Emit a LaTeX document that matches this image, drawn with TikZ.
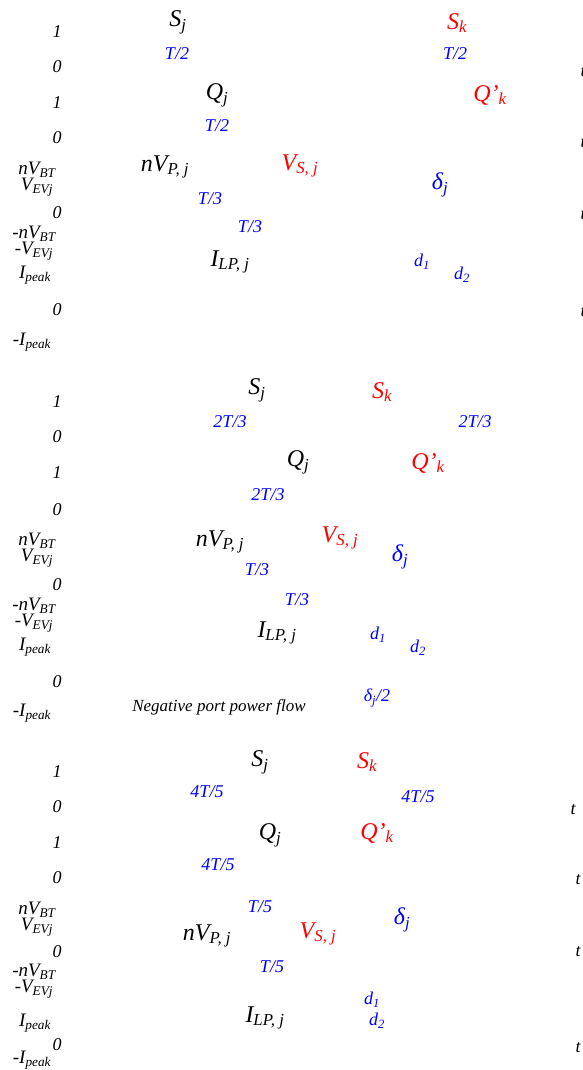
\documentclass[tikz,border=0pt]{standalone}
\usepackage{fontspec}
\setmainfont{Liberation Serif}
\begin{document}
\begin{tikzpicture}[x=1pt,y=-1pt,
  lab/.style={inner sep=0pt,font=\fontsize{18}{20}\selectfont\itshape},
  axl/.style={inner sep=0pt,font=\fontsize{19}{20}\selectfont\itshape},
  stk/.style={inner sep=0pt,align=center,font=\fontsize{19}{14}\selectfont\itshape},
  big/.style={inner sep=0pt,font=\fontsize{24}{26}\selectfont\itshape},
  blu/.style={text=blue},
  rd/.style={text=red},
  neg/.style={inner sep=0pt,font=\fontsize{17}{18}\selectfont\itshape}]
\useasboundingbox (0,0) rectangle (582,1070);
% ---------- Section 1 ----------
\node[lab] (a1) at (57,32) {1};
\node[lab] (a2) at (57,67) {0};
\node[lab] (a3) at (57,103) {1};
\node[lab] (a4) at (57,138) {0};
\node[stk] (a5) at (37,179) {nV\textsubscript{BT}\\V\textsubscript{EVj}};
\node[lab] (a7) at (57,213) {0};
\node[stk] (a8) at (34,243) {-nV\textsubscript{BT}\\-V\textsubscript{EVj}};
\node[axl] (a10) at (35,275) {I\textsubscript{peak}};
\node[lab] (a11) at (57,310) {0};
\node[axl] (a12) at (32,342) {-I\textsubscript{peak}};
\node[big] (sj1) at (178,22) {S\textsubscript{j}};
\node[lab,blu] (t1a) at (177,54) {T/2};
\node[big] (qj1) at (217,95) {Q\textsubscript{j}};
\node[lab,blu] (t1b) at (217,126) {T/2};
\node[big] (vp1) at (165,167) {nV\textsubscript{P, j}};
\node[lab,blu] (t1c) at (210,199) {T/3};
\node[lab,blu] (t1d) at (250,227) {T/3};
\node[big] (il1) at (230,262) {I\textsubscript{LP, j}};
\node[big,rd] (sk1) at (457,23) {S\textsubscript{k}};
\node[lab,blu] (t1e) at (455,54) {T/2};
\node[big,rd] (qk1) at (490,95) {Q’\textsubscript{k}};
\node[big,rd] (vs1) at (300,166) {V\textsubscript{S, j}};
\node[big,blu] (dl1) at (440,185) {δ\textsubscript{j}};
\node[lab,blu] (d11) at (422,262) {d\textsubscript{1}};
\node[lab,blu] (d21) at (462,275) {d\textsubscript{2}};
\node[lab,anchor=west] (r1) at (580.5,72) {t};
\node[lab,anchor=west] (r2) at (580.5,143) {t};
\node[lab,anchor=west] (r3) at (580.5,215) {t};
\node[lab,anchor=west] (r4) at (580.5,312) {t};
% ---------- Section 2 ----------
\node[lab] (b1) at (57,402) {1};
\node[lab] (b2) at (57,437) {0};
\node[lab] (b3) at (57,473) {1};
\node[lab] (b4) at (57,510) {0};
\node[stk] (b5) at (37,550) {nV\textsubscript{BT}\\V\textsubscript{EVj}};
\node[lab] (b7) at (57,585) {0};
\node[stk] (b8) at (34,615) {-nV\textsubscript{BT}\\-V\textsubscript{EVj}};
\node[axl] (b10) at (35,647) {I\textsubscript{peak}};
\node[lab] (b11) at (57,682) {0};
\node[axl] (b12) at (32,713) {-I\textsubscript{peak}};
\node[big] (sj2) at (257,390) {S\textsubscript{j}};
\node[lab,blu] (t2a) at (230,422) {2T/3};
\node[big] (qj2) at (298,462) {Q\textsubscript{j}};
\node[lab,blu] (t2b) at (268,495) {2T/3};
\node[big] (vp2) at (220,542) {nV\textsubscript{P, j}};
\node[lab,blu] (t2c) at (257,570) {T/3};
\node[lab,blu] (t2d) at (297,600) {T/3};
\node[big] (il2) at (277,633) {I\textsubscript{LP, j}};
\node[neg] (np) at (219,707) {Negative port power flow};
\node[big,rd] (sk2) at (382,392) {S\textsubscript{k}};
\node[lab,blu] (t2e) at (475,422) {2T/3};
\node[big,rd] (qk2) at (428,463) {Q’\textsubscript{k}};
\node[big,rd] (vs2) at (340,538) {V\textsubscript{S, j}};
\node[big,blu] (dl2) at (400,557) {δ\textsubscript{j}};
\node[lab,blu] (d12) at (378,635) {d\textsubscript{1}};
\node[lab,blu] (d22) at (418,648) {d\textsubscript{2}};
\node[lab,blu] (dh2) at (377,698) {δ\textsubscript{j}/2};
% ---------- Section 3 ----------
\node[lab] (c1) at (57,772) {1};
\node[lab] (c2) at (57,807) {0};
\node[lab] (c3) at (57,843) {1};
\node[lab] (c4) at (57,878) {0};
\node[stk] (c5) at (37,919) {nV\textsubscript{BT}\\V\textsubscript{EVj}};
\node[lab] (c7) at (57,952) {0};
\node[stk] (c8) at (34,981) {-nV\textsubscript{BT}\\-V\textsubscript{EVj}};
\node[axl] (c10) at (35,1023) {I\textsubscript{peak}};
\node[lab] (c11) at (57,1045) {0};
\node[axl] (c12) at (32,1060) {-I\textsubscript{peak}};
\node[big] (sj3) at (260,762) {S\textsubscript{j}};
\node[lab,blu] (t3a) at (207,792) {4T/5};
\node[big] (qj3) at (270,835) {Q\textsubscript{j}};
\node[lab,blu] (t3b) at (218,865) {4T/5};
\node[lab,blu] (t3c) at (260,907) {T/5};
\node[big] (vp3) at (207,936) {nV\textsubscript{P, j}};
\node[lab,blu] (t3d) at (272,967) {T/5};
\node[big] (il3) at (265,1018) {I\textsubscript{LP, j}};
\node[big,rd] (sk3) at (367,762) {S\textsubscript{k}};
\node[lab,blu] (t3e) at (418,797) {4T/5};
\node[big,rd] (qk3) at (377,833) {Q’\textsubscript{k}};
\node[big,rd] (vs3) at (318,934) {V\textsubscript{S, j}};
\node[big,blu] (dl3) at (402,920) {δ\textsubscript{j}};
\node[lab,blu] (d13) at (372,1000) {d\textsubscript{1}};
\node[lab,blu] (d23) at (377,1021) {d\textsubscript{2}};
\node[lab] (s1) at (573,810) {t};
\node[lab] (s2) at (578,880) {t};
\node[lab] (s3) at (578,952) {t};
\node[lab] (s4) at (578,1048) {t};
\end{tikzpicture}
\end{document}
